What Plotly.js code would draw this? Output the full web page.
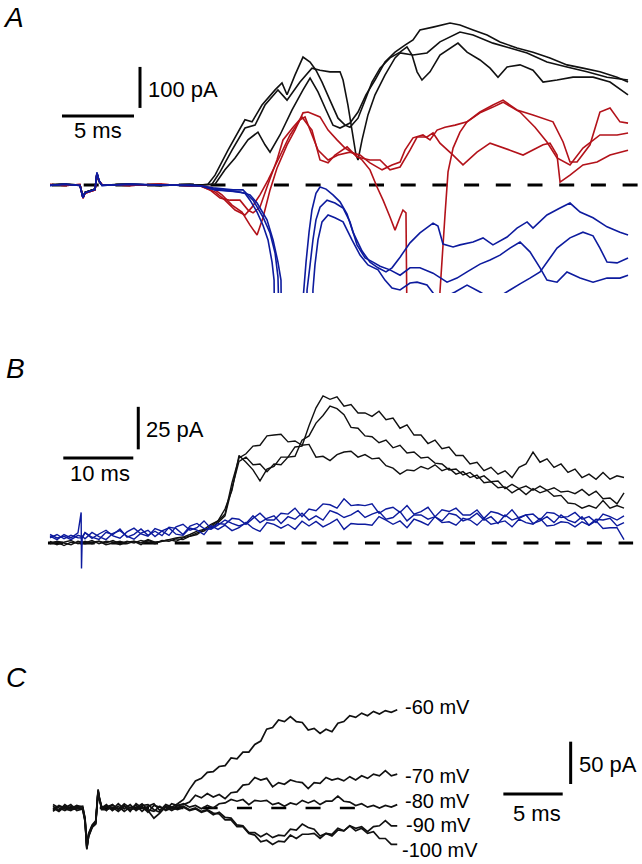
<!DOCTYPE html>
<html><head><meta charset="utf-8">
<script src="https://cdn.plot.ly/plotly-3.0.1.min.js"></script>
<style>html,body{margin:0;padding:0;background:#fff}#chart{width:642px;height:864px}</style>
</head><body><div id="chart"></div>
<script>
// ===== Panel A (time ms, current pA) =====
const preT_A = [0,1.04,2.08,2.29,2.43,3.13,3.26,3.40,3.61,5.56,7.64,9.72];
const preI_A_black = [0,2,0,-30,-18,-10,27,9,0,2,-1,1];
const preI_A_red = [1,-1,1,-32,-20,-12,28,10,1,-1,2,-2];
const preI_A_blue = [-1,2,-1,-31,-19,-11,30,11,-1,2,0,-1];

const aBlack1T = [10.42,10.97,11.46,12.36,13.54,14.03,14.72,15.63,16.11,16.46,17.01,17.57,18.06,18.47,18.89,19.44,20.0,20.49,20.83,21.39,21.88,22.36,22.92,23.61,24.31,24.79,25.14,25.49,25.83,26.39,27.08,28.33,28.96,29.86,30.56,31.11,31.74,32.64,33.54,34.24,35.21,36.32,37.71,38.89,40.14];
const aBlack1I = [0,2,24,85,159,154,195,232,249,220,268,312,300,280,251,207,163,146,141,163,207,251,285,310,324,337,317,276,256,276,317,346,324,305,285,263,288,293,280,251,256,263,263,251,220];
const aBlack2T = [10.42,11.25,11.81,12.64,13.54,14.24,14.93,15.83,16.46,17.36,18.19,18.75,19.44,20.14,20.35,20.69,20.97,21.25,21.39,21.67,22.08,22.57,23.26,23.96,24.31,25.21,26.18,27.08,28.47,29.38,30.76,31.94,33.13,34.51,35.90,37.29,38.68,40.14];
const aBlack2I = [0,2,32,85,139,146,195,232,207,251,285,280,276,276,256,195,134,73,61,110,171,220,268,310,322,317,322,349,373,366,346,334,322,300,288,276,263,256];
const aBlack3T = [10.42,11.46,12.15,12.85,13.75,14.44,14.93,15.28,15.97,16.81,17.57,18.06,18.61,19.17,19.65,20.14,20.83,21.39,21.94,22.57,23.26,23.96,24.65,25.21,25.69,26.60,27.78,28.47,29.38,30.35,31.25,32.43,33.54,34.72,35.90,37.01,38.19,39.38,40.14];
const aBlack3I = [0,2,37,66,110,129,98,80,122,183,232,261,227,183,146,139,151,178,220,256,300,324,341,354,378,385,395,390,378,366,349,334,324,310,293,285,276,263,251];

const aRed1T = [10.42,11.25,11.94,12.64,13.33,13.89,14.38,14.79,15.28,15.76,16.46,17.01,17.57,17.92,18.75,19.31,19.93,20.49,21.04,21.67,22.22,22.71,23.13,23.61,23.96,24.31,24.51,24.72,24.86,26.94,27.08,27.43,27.64,27.99,28.47,28.96,29.86,30.76,31.46,32.43,33.54,34.93,35.63,36.11,36.60,37.5,38.19,38.89,39.58,40.14];
const aRed1I = [-2,-7,-24,-49,-66,-98,-122,-80,-12,41,98,134,176,178,166,134,110,90,78,61,37,-5,-37,-78,-110,-78,-61,-68,-600,-600,-261,-73,32,90,129,154,178,195,207,183,171,154,105,56,56,98,178,188,154,151];
const aRed2T = [10.42,11.11,11.81,12.5,13.19,13.75,14.10,14.58,15.07,15.76,16.18,16.88,17.5,17.92,18.19,18.75,19.31,19.79,20.63,21.32,22.22,22.92,23.61,24.31,25.0,25.49,26.18,26.60,27.08,27.99,28.68,29.65,30.56,31.94,32.85,34.24,34.72,35.21,35.42,36.11,37.01,37.99,38.89,40.14];
const aRed2I = [-2,-12,-32,-37,-37,-61,-68,-54,-5,61,110,141,166,146,134,61,54,73,93,68,61,61,37,44,85,117,117,127,102,73,49,80,102,85,73,98,102,73,7,24,49,56,73,85];
const aRed3T = [10.42,11.46,12.15,12.85,13.54,14.03,14.58,15.14,15.83,16.67,17.36,17.71,18.06,18.61,19.31,20.0,20.83,21.53,22.22,23.06,23.75,24.31,24.65,25.21,25.90,26.39,26.88,27.43,28.13,28.96,29.86,30.76,31.46,32.64,33.68,34.51,35.21,36.11,37.01,38.19,39.38,40.14];
const aRed3I = [-2,-17,-37,-61,-73,-54,-24,12,61,122,159,166,134,85,61,73,80,73,54,37,49,56,85,115,122,110,134,141,146,154,176,190,202,178,141,105,66,49,90,122,122,127];

const aBlue1T = [10.42,11.32,12.71,13.40,14.10,14.79,15.28,15.63,15.83,16.18,17.43,17.57,17.78,17.99,18.19,18.47,18.75,19.17,19.65,20.14,20.63,21.04,21.67,22.22,22.78,23.33,23.75,24.31,25.0,25.69,26.60,26.94,27.29,27.99,28.47,29.38,30.07,30.76,31.74,32.43,33.13,33.54,34.51,35.42,36.11,36.81,37.71,38.68,39.58,40.14];
const aBlue1I = [-2,-7,-12,-12,-37,-78,-117,-166,-224,-700,-700,-280,-188,-115,-61,-20,-5,-10,-24,-41,-71,-115,-161,-188,-202,-212,-202,-176,-141,-117,-93,-100,-144,-151,-146,-139,-129,-146,-127,-105,-90,-105,-73,-56,-44,-66,-80,-102,-115,-122];
const aBlue2T = [10.42,11.32,12.71,13.54,13.89,14.38,14.79,15.14,15.42,15.56,15.69,17.71,17.85,18.06,18.26,18.47,18.75,19.24,19.79,20.35,20.83,21.32,21.88,22.43,22.92,23.61,24.31,25.0,25.69,26.60,27.57,28.26,28.96,29.86,30.56,31.25,31.94,32.64,33.33,34.03,34.51,35.21,35.90,36.81,37.71,38.68,39.58,40.14];
const aBlue2I = [-2,-10,-15,-20,-37,-66,-98,-134,-188,-232,-700,-700,-256,-195,-134,-85,-54,-37,-44,-56,-90,-146,-178,-188,-198,-207,-220,-202,-202,-215,-237,-227,-212,-193,-183,-171,-154,-139,-163,-202,-232,-237,-212,-227,-237,-227,-227,-220];
const aBlue3T = [10.42,11.46,13.19,13.89,14.38,15.07,15.49,15.83,16.04,16.18,18.13,18.26,18.40,18.61,18.89,19.31,19.79,20.35,20.97,21.53,22.08,22.78,23.26,23.75,24.31,25.0,25.49,26.18,26.88,27.43,28.13,28.96,29.86,30.56,31.25,31.94,32.64,33.33,34.03,34.72,35.21,36.11,37.01,37.71,38.19,38.68,39.38,40.14];
const aBlue3I = [-2,-12,-17,-24,-44,-85,-134,-188,-232,-700,-700,-256,-195,-134,-90,-73,-80,-90,-134,-171,-195,-207,-232,-251,-256,-239,-237,-244,-276,-273,-261,-244,-261,-276,-271,-256,-241,-227,-212,-178,-154,-129,-115,-124,-154,-188,-190,-178];

// ===== Panel B =====
const tB = [0,1,2,3,4,4.45,4.5,4.6,5,6,7,8,9,10,11,12,13,14,15,16,17,18,19,20,21,22,23,24,25,26,27,28,29,30,31,32,33,34,35,36,37,38,39,40,41,42,43,44,45,46,47,48,49,50,51,52,53,54,55,56,57,58,59,60,61,62,63,64,65,66,67,68,69,70,71,72,73,74,75,76,77,78,79,80,81,82];
const bBlack1 = [1,-1,0.5,1.5,-0.5, 0,0.5,0, 1,-0.5,1,0,1.5,-0.5,0.5,1,-1,1.5,0,1,2,1,3,4,6,7,10,13,
 20,31,51.5,47.5,43,36.5,43.5,45,50.5,50.5,56.5,57,69,79.5,86.5,84.5,86,80.5,81.5,76.5,76.5,74.5,77.5,72.5,73.5,67.5,69.5,63.5,63.5,58.5,60.5,55.5,56.5,51.5,51.5,46.5,47.5,42.5,44.5,40.5,42.5,38.5,44.5,46.5,53.5,47.5,49.5,44.5,46.5,41.5,43.5,38.5,40.5,37.5,41.5,37.5,39.5,38.5];
const bBlack2 = [-0.5,1,0,-1,1, 0.5,0,0.5, 0,1.5,-0.5,1,0.5,-1,1,0,1.5,0.5,-0.5,1.5,1,2.5,2,4,5,8,9,12,
 16,32.5,48,50.5,46,46.5,42,46.5,46,50.5,51,60.5,63,70.5,75,80.5,79,75.5,68,67.5,63,62.5,59,60.5,56,57.5,53,53.5,50,50.5,47,46.5,43,43.5,40,41.5,38,39.5,36,36.5,32,34.5,32,33.5,31,33.5,31,32.5,30,30.5,29,31.5,28,30.5,26,26.5,23,29.5];
const bBlack3 = [0,0.5,-1.5,0.5,0, 0,-0.5,0, -0.5,0.5,1,-1,0,1,-0.5,1,0,2,0.5,1,2,3,3.5,5,7,8,11,13,
 17,35.5,50,52.5,57,57.5,63,63.5,64,59.5,60,57.5,58,50.5,51,48.5,52,53.5,54,50.5,52,49.5,50,45.5,44,40.5,43,42.5,45,43.5,46,42.5,44,40.5,42,38.5,40,35.5,36,32.5,33,29.5,32,28.5,32,29.5,31,27.5,28,23.5,23,20.5,22,20.5,25,20.5,22,20.5];
const bBlue1 = [4,2,5,3,6, 18,-15,3,
 6,2.7,5.3,7.5,4.2,2.8,6.5,8.7,5.3,4, 8.5,7,4.5,9.5,11,7.5,9,13,8.5,11.5, 11,14.5,14,11,14.5,17.5,13.5,13.5,17.5,17, 20.5,15.5,20,19,23,22.5,20.5,26,22,22.5,
 22,23,17.5,20,21,18,22,17,18.5,21, 15.5,19.5,18.5,20.5,16.5,16.5,19.5,14.5,18.5,17.5, 15.5,19.5,14.5,16.5,17,13.5,18,17.5,15,15.5, 18,14,15.5,12,17,15.5,13.5,16];
const bBlue2 = [3,5,2.5,4.5,3, 3,2.5,4,
 2.5,6.2,3.8,2,5.7,7.3,4,2.2,5.8,7.5, 3.8,7.1,8.9,5.2,4.5,8.8,7.6,4.9,10.2,8, 10.5,7.3,9,12.1,8.7,6.8,12,11,8.7,10.9, 8.1,12.8,10,12.7,9.5,11.5,14,8,11.5,11,
 11,10.5,15.5,13.5,11,13,9,14,12.5,10.5, 15.5,12,12.5,10.5,14.5,13.5,10.5,14.5,11,12, 13,9.5,14,12,11,14.5,10,10.5,12.5,12, 9.5,12.5,10.5,13,8.5,9,9,2];
const bBlue3 = [5,3,4,2,4.5, 4,3,3.5,
 6.2,3.4,2.1,6.3,5,8.2,3.4,5.1,8.3,4.5, 6.9,4.3,9.2,8.6,5,10,11.5,8.5,8,10.5, 13.5,11.5,10,11.5,16,12,14.5,16,11.5,15.5, 14,17.5,13.5,16,13.5,19,17.5,15,16.5,19,
 15,17,18.5,14,15,18.5,13,16.5,16.5,14, 15.5,13,17.5,16.5,13,14.5,17.5,13.5,15.5,11.5, 16.5,13.5,15,16.5,11.5,13,15.5,12,16.5,13.5, 12,15.5,10.5,14,13.5,14.5,10,12];

// ===== Panel C =====
const tC = [0,0.5,1,1.5,2, 2.5,2.7,2.85,3.0,3.3,3.6,3.8,3.9,4.1, 4.5,5,5.5,6,6.5,7,7.5,8,8.5,9,9.5,10,10.5,
 11,11.5,12,12.5,13,13.5,14,14.5,15,15.5,16,16.5,17,17.5,18,18.5,19,19.5,20,20.5,21,21.5,22,22.5,23,23.5,24,24.5,25,25.5,26,26.5,27,27.5,28,28.5,29];
const cLabels = ['-60 mV','-70 mV','-80 mV','-90 mV','-100 mV'];
const c60 = [2,-3,4,-1,3, 1,-12,-45,-30,-20,-15,22,10,2, -3,4,-2,5,0,3,-4,2,5,-3,4,1,5,
 10,22,32,35,42,43,49,50,59,58,66,66,75,79,93,95,104,102,108,102,101,92,94,88,93,90,100,102,109,107,112,109,114,111,115,113,116];
const c70 = [-2,3,0,4,-3, -1,-15,-48,-33,-22,-18,20,12,-1, 3,-2,5,-1,4,-3,2,-5,3,1,-2,5,3,
 4,7,15,12,17,13,16,11,18,19,27,28,36,33,35,25,30,28,33,31,30,23,30,29,36,33,35,32,37,33,38,35,40,38,44,38,40];
const c80 = [4,0,-3,2,1, 2,-13,-46,-31,-21,-16,21,13,1, 1,4,-1,3,-4,5,0,-3,-12,-6,2,-1,3,
 5,1,3,-1,3,0,5,6,10,8,10,4,9,8,9,4,6,2,6,4,9,6,9,4,8,8,14,8,7,3,5,1,3,0,3,1,4];
const c90 = [-4,2,-1,-3,2, -2,-16,-47,-34,-23,-19,19,11,-2, -2,1,-4,2,-2,0,5,-2,-4,2,-3,0,-2,
 1,-3,-1,-5,-3,-8,-5,-11,-12,-20,-21,-29,-29,-34,-30,-35,-32,-33,-25,-26,-19,-23,-25,-33,-30,-33,-26,-27,-21,-24,-22,-28,-22,-21,-15,-21,-21];
const c100 = [0,-4,2,-2,-1, 0,-14,-49,-32,-22,-17,20,12,0, 4,-3,2,-4,1,-2,3,4,-2,-5,1,-3,1,
 2,-2,0,-4,-2,-6,-7,-14,-14,-22,-22,-30,-32,-40,-38,-43,-39,-40,-32,-36,-31,-31,-30,-36,-30,-31,-24,-27,-21,-27,-24,-30,-28,-36,-36,-43,-43];

// ===== styling / assembly =====
const BLACK = '#111111', RED = '#b3121a', BLUE = '#0d1b9e';
const FONT = 'Liberation Sans, Arial, Helvetica, sans-serif';
function tr(x, y, color, w, xa, ya) {
  return {x: x, y: y, type: 'scatter', mode: 'lines', line: {color: color, width: w, simplify: false},
          xaxis: xa, yaxis: ya, hoverinfo: 'skip', showlegend: false};
}
const cat = (a, b) => a.concat(b);
const data = [
  tr(cat(preT_A, aBlack1T), cat(preI_A_black, aBlack1I), BLACK, 1.6, 'x', 'y'),
  tr(cat(preT_A, aBlack2T), cat(preI_A_black, aBlack2I), BLACK, 1.6, 'x', 'y'),
  tr(cat(preT_A, aBlack3T), cat(preI_A_black, aBlack3I), BLACK, 1.6, 'x', 'y'),
  tr(cat(preT_A, aRed1T), cat(preI_A_red, aRed1I), RED, 1.6, 'x', 'y'),
  tr(cat(preT_A, aRed2T), cat(preI_A_red, aRed2I), RED, 1.6, 'x', 'y'),
  tr(cat(preT_A, aRed3T), cat(preI_A_red, aRed3I), RED, 1.6, 'x', 'y'),
  tr(cat(preT_A, aBlue1T), cat(preI_A_blue, aBlue1I), BLUE, 1.6, 'x', 'y'),
  tr(cat(preT_A, aBlue2T), cat(preI_A_blue, aBlue2I), BLUE, 1.6, 'x', 'y'),
  tr(cat(preT_A, aBlue3T), cat(preI_A_blue, aBlue3I), BLUE, 1.6, 'x', 'y'),
  tr(tB, bBlack1, BLACK, 1.4, 'x2', 'y2'),
  tr(tB, bBlack2, BLACK, 1.4, 'x2', 'y2'),
  tr(tB, bBlack3, BLACK, 1.4, 'x2', 'y2'),
  tr(tB, bBlue1, BLUE, 1.4, 'x2', 'y2'),
  tr(tB, bBlue2, BLUE, 1.4, 'x2', 'y2'),
  tr(tB, bBlue3, BLUE, 1.4, 'x2', 'y2'),
  tr(tC, c60, BLACK, 1.7, 'x3', 'y3'),
  tr(tC, c70, BLACK, 1.7, 'x3', 'y3'),
  tr(tC, c80, BLACK, 1.7, 'x3', 'y3'),
  tr(tC, c90, BLACK, 1.7, 'x3', 'y3'),
  tr(tC, c100, BLACK, 1.7, 'x3', 'y3')
];

const W = 642, H = 864;
const ax = (dom, rng, anchor) => ({domain: dom, range: rng, visible: false, fixedrange: true, anchor: anchor, showgrid: false, zeroline: false});
function seg(xr, yr, x0, y0, x1, y1, w, dash, layer) {
  return {type: 'line', xref: xr, yref: yr, x0: x0, y0: y0, x1: x1, y1: y1,
          line: {color: '#000', width: w, dash: dash || 'solid'}, layer: layer || 'above'};
}
function ann(text, px, py, anchor, size) {
  return {xref: 'paper', yref: 'paper', x: px / W, y: 1 - py / H, xanchor: anchor, yanchor: 'middle',
          text: text, showarrow: false, borderpad: 0, font: {family: FONT, size: size, color: '#000'}};
}
const layout = {
  width: W, height: H, margin: {l: 0, r: 0, t: 0, b: 0},
  paper_bgcolor: '#fff', plot_bgcolor: 'rgba(0,0,0,0)', showlegend: false,
  xaxis: ax([0, 1], [-3.472, 41.11], 'y'),
  yaxis: ax([1 - 293 / H, 1], [-263.4, 451.2], 'x'),
  xaxis2: ax([0, 1], [-7.143, 84.57], 'y2'),
  yaxis2: ax([1 - 575 / H, 1 - 380 / H], [-18.82, 95.88], 'x2'),
  xaxis3: ax([0, 1], [-4.465, 49.62], 'y3'),
  yaxis3: ax([0, 1 - 650 / H], [-66.1, 186.5], 'x3'),
  shapes: [
    // Panel A
    seg('x', 'y', 0.139, 0, 41.11, 0, 3, '15px,16.7px', 'below'),
    seg('x', 'y', 0.833, 168, 5.833, 168, 3),
    seg('x', 'y', 6.25, 188, 6.25, 288, 3),
    // Panel B
    seg('x2', 'y2', -0.29, 0, 83.3, 0, 3, '15px,16.7px', 'below'),
    seg('x2', 'y2', 1.9, 50, 11.9, 50, 3),
    seg('x2', 'y2', 12.61, 55.1, 12.61, 80.1, 3),
    // Panel C
    seg('x3', 'y3', 1.05, 0, 25.86, 0, 2.6, '15px,19.3px', 'below'),
    seg('x3', 'y3', 37.94, 16.5, 42.94, 16.5, 3),
    seg('x3', 'y3', 43.61, 28.3, 43.61, 78.3, 3)
  ],
  annotations: [
    ann('<i>A</i>', 13, 17, 'center', 28),
    ann('<i>B</i>', 15, 368, 'center', 28),
    ann('<i>C</i>', 16, 677, 'center', 28),
    ann('100 pA', 147, 89.5, 'left', 22),
    ann('5 ms', 98, 131, 'center', 22),
    ann('25 pA', 145, 430, 'left', 22),
    ann('10 ms', 99.5, 473.5, 'center', 22),
    ann('50 pA', 578, 764.5, 'left', 22),
    ann('5 ms', 536.7, 813.5, 'center', 22),
    ann(cLabels[0], 404, 706.7, 'left', 20),
    ann(cLabels[1], 404, 776, 'left', 20),
    ann(cLabels[2], 404, 801, 'left', 20),
    ann(cLabels[3], 405, 825, 'left', 20),
    ann(cLabels[4], 401, 850, 'left', 20)
  ]
};
Plotly.newPlot('chart', data, layout, {staticPlot: true, displayModeBar: false, responsive: false});
</script>
</body></html>
